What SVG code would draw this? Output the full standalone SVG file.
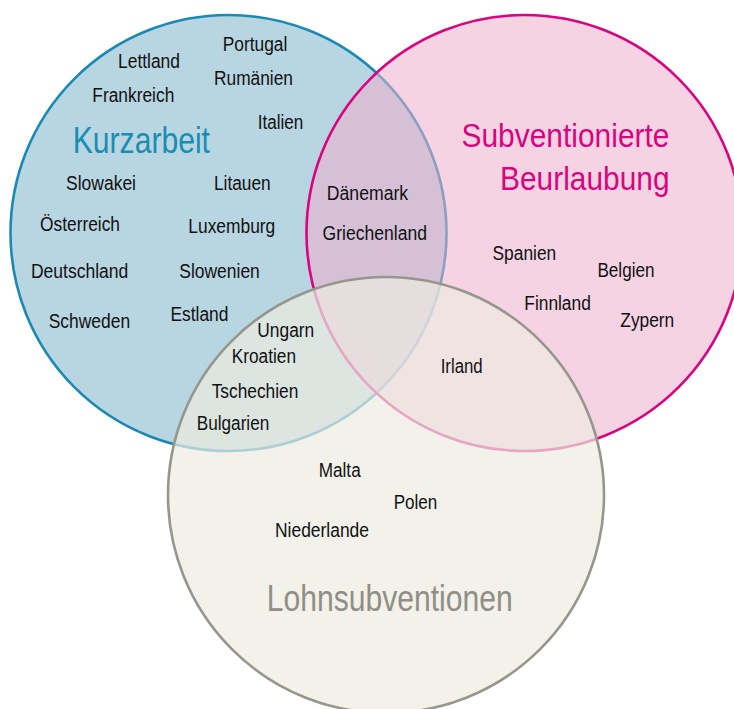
<svg xmlns="http://www.w3.org/2000/svg" width="734" height="709" viewBox="0 0 734 709">
<style>
.c{font-family:"Liberation Sans",Arial,sans-serif;font-size:20px;fill:#111111}
.t{font-family:"Liberation Sans",Arial,sans-serif}
</style>
<rect width="734" height="709" fill="#ffffff"/>
<g id="kurzarbeit">
<circle cx="228.5" cy="233" r="218" fill="#b8d5e2" stroke="#1a8ab5" stroke-width="2.6"/>
<text class="t" x="72.7" y="152.7" font-size="36" fill="#1b8db5" textLength="137.3" lengthAdjust="spacingAndGlyphs">Kurzarbeit</text>
</g>
<g id="subventionierte-beurlaubung">
<circle cx="524.5" cy="233" r="218" fill="#edafcc" fill-opacity="0.55" stroke="#d9047f" stroke-width="2.6"/>
<text class="t" x="669.5" y="146.7" font-size="34" fill="#d9047f" text-anchor="end" textLength="208" lengthAdjust="spacingAndGlyphs">Subventionierte</text>
<text class="t" x="669.5" y="190" font-size="34" fill="#d9047f" text-anchor="end" textLength="169.5" lengthAdjust="spacingAndGlyphs">Beurlaubung</text>
</g>
<g id="lohnsubventionen">
<circle cx="386" cy="495" r="218" fill="#ecebe1" fill-opacity="0.7" stroke="#96968c" stroke-width="2.6"/>
<text class="t" x="266.7" y="611" font-size="37" fill="#8f8f86" textLength="246" lengthAdjust="spacingAndGlyphs">Lohnsubventionen</text>
</g>
<g id="connectors"/>
<g id="laender">
<text id="portugal" class="c" x="222.7" y="50.7" textLength="64.6" lengthAdjust="spacingAndGlyphs">Portugal</text>
<text id="lettland" class="c" x="118" y="67.7" textLength="62" lengthAdjust="spacingAndGlyphs">Lettland</text>
<text id="rumaenien" class="c" x="214" y="85" textLength="79" lengthAdjust="spacingAndGlyphs">Rumänien</text>
<text id="frankreich" class="c" x="92.3" y="102.3" textLength="82" lengthAdjust="spacingAndGlyphs">Frankreich</text>
<text id="italien" class="c" x="257.7" y="128.7" textLength="45.6" lengthAdjust="spacingAndGlyphs">Italien</text>
<text id="slowakei" class="c" x="66" y="190" textLength="70" lengthAdjust="spacingAndGlyphs">Slowakei</text>
<text id="litauen" class="c" x="214" y="190" textLength="56.7" lengthAdjust="spacingAndGlyphs">Litauen</text>
<text id="oesterreich" class="c" x="40" y="231" textLength="80" lengthAdjust="spacingAndGlyphs">Österreich</text>
<text id="luxemburg" class="c" x="188.3" y="233" textLength="87" lengthAdjust="spacingAndGlyphs">Luxemburg</text>
<text id="deutschland" class="c" x="30.9" y="277.8" textLength="97.4" lengthAdjust="spacingAndGlyphs">Deutschland</text>
<text id="slowenien" class="c" x="179.3" y="277.8" textLength="80.5" lengthAdjust="spacingAndGlyphs">Slowenien</text>
<text id="schweden" class="c" x="48.7" y="327.6" textLength="81.4" lengthAdjust="spacingAndGlyphs">Schweden</text>
<text id="estland" class="c" x="170.4" y="321.3" textLength="58.1" lengthAdjust="spacingAndGlyphs">Estland</text>
<text id="daenemark" class="c" x="326.8" y="199.5" textLength="81.4" lengthAdjust="spacingAndGlyphs">Dänemark</text>
<text id="griechenland" class="c" x="322.6" y="239.8" textLength="104.4" lengthAdjust="spacingAndGlyphs">Griechenland</text>
<text id="spanien" class="c" x="492.5" y="260" textLength="63.7" lengthAdjust="spacingAndGlyphs">Spanien</text>
<text id="belgien" class="c" x="597.4" y="277" textLength="57.1" lengthAdjust="spacingAndGlyphs">Belgien</text>
<text id="finnland" class="c" x="524.3" y="310" textLength="66.5" lengthAdjust="spacingAndGlyphs">Finnland</text>
<text id="zypern" class="c" x="620.3" y="326.7" textLength="53.9" lengthAdjust="spacingAndGlyphs">Zypern</text>
<text id="ungarn" class="c" x="257.3" y="337.3" textLength="57" lengthAdjust="spacingAndGlyphs">Ungarn</text>
<text id="kroatien" class="c" x="231.7" y="363.3" textLength="64.3" lengthAdjust="spacingAndGlyphs">Kroatien</text>
<text id="tschechien" class="c" x="211.7" y="398.3" textLength="86.6" lengthAdjust="spacingAndGlyphs">Tschechien</text>
<text id="bulgarien" class="c" x="196.7" y="430" textLength="72.6" lengthAdjust="spacingAndGlyphs">Bulgarien</text>
<text id="irland" class="c" x="440.7" y="372.7" textLength="42" lengthAdjust="spacingAndGlyphs">Irland</text>
<text id="malta" class="c" x="318.7" y="476.7" textLength="42" lengthAdjust="spacingAndGlyphs">Malta</text>
<text id="polen" class="c" x="393.7" y="509.3" textLength="43.6" lengthAdjust="spacingAndGlyphs">Polen</text>
<text id="niederlande" class="c" x="275" y="537.3" textLength="94" lengthAdjust="spacingAndGlyphs">Niederlande</text>
</g>
</svg>
